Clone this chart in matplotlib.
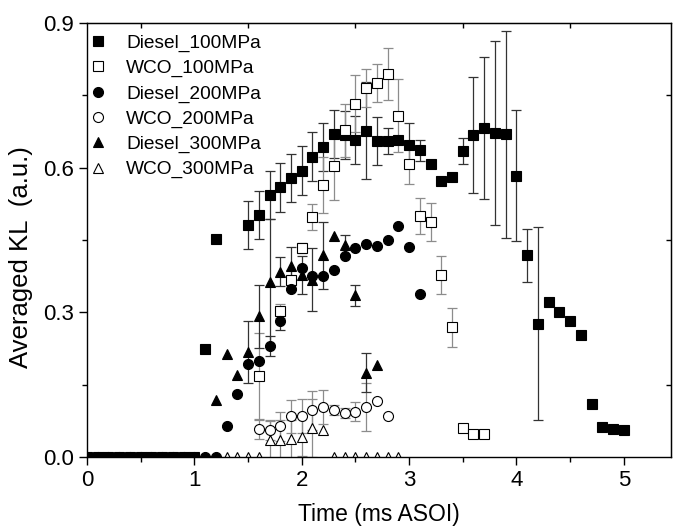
import numpy as np
import matplotlib
matplotlib.use('Agg')
import matplotlib.pyplot as plt
from matplotlib.ticker import MultipleLocator, FixedLocator

plt.rcParams['font.family'] = ['Liberation Sans', 'DejaVu Sans']

# Diesel 100 MPa
d100_x = [0.0, 0.1, 0.2, 0.3, 0.4, 0.5, 0.6, 0.7, 0.8, 0.9, 1.0, 1.1, 1.2,
          1.5, 1.6, 1.7, 1.8, 1.9, 2.0, 2.1, 2.2, 2.3, 2.4, 2.5, 2.6, 2.7, 2.8, 2.9,
          3.0, 3.1, 3.2, 3.3, 3.4, 3.5, 3.6, 3.7, 3.8, 3.9, 4.0, 4.1, 4.2, 4.3, 4.4,
          4.5, 4.6, 4.7, 4.8, 4.9, 5.0]
d100_y = [0, 0, 0, 0, 0, 0, 0, 0, 0, 0, 0, 0.223, 0.453,
          0.481, 0.502, 0.543, 0.559, 0.578, 0.594, 0.623, 0.643, 0.670, 0.668, 0.657, 0.677, 0.656, 0.656, 0.658,
          0.647, 0.636, 0.607, 0.573, 0.580, 0.635, 0.668, 0.682, 0.672, 0.669, 0.583, 0.418, 0.276, 0.321, 0.301,
          0.281, 0.252, 0.110, 0.063, 0.058, 0.055]
d100_e = [0, 0, 0, 0, 0, 0, 0, 0, 0, 0, 0, 0, 0,
          0.05, 0.05, 0.05, 0.05, 0.05, 0.05, 0.05, 0.05, 0.05, 0.05, 0.05, 0.10, 0.05, 0.027, 0,
          0.045, 0.022, 0.008, 0, 0, 0.027, 0.12, 0.148, 0.19, 0.215, 0.136, 0.055, 0.20, 0, 0,
          0, 0, 0, 0, 0, 0]

# WCO 100 MPa
w100_x = [1.6, 1.8, 1.9, 2.0, 2.1, 2.2, 2.3, 2.4, 2.5, 2.6, 2.7, 2.8, 2.9, 3.0,
          3.1, 3.2, 3.3, 3.4, 3.5, 3.6, 3.7]
w100_y = [0.167, 0.303, 0.367, 0.433, 0.497, 0.564, 0.603, 0.678, 0.733, 0.765, 0.776, 0.794, 0.708, 0.607,
          0.500, 0.487, 0.377, 0.269, 0.061, 0.047, 0.047]
w100_e = [0.09, 0.015, 0.02, 0.01, 0.027, 0.058, 0.07, 0.055, 0.06, 0.04, 0.04, 0.054, 0.075, 0.04,
          0.037, 0.04, 0.04, 0.04, 0, 0, 0]

# Diesel 200 MPa
d200_x = [0.0, 0.1, 0.2, 0.3, 0.4, 0.5, 0.6, 0.7, 0.8, 0.9, 1.0, 1.1, 1.2,
          1.3, 1.4, 1.5, 1.6, 1.7, 1.8, 1.9, 2.0, 2.1, 2.2, 2.3, 2.4, 2.5, 2.6, 2.7,
          2.8, 2.9, 3.0, 3.1]
d200_y = [0, 0, 0, 0, 0, 0, 0, 0, 0, 0, 0, 0, 0,
          0.064, 0.130, 0.192, 0.200, 0.230, 0.283, 0.348, 0.392, 0.375, 0.376, 0.388, 0.416, 0.433, 0.441, 0.438,
          0.450, 0.479, 0.436, 0.337]
d200_e = [0] * 13 + [0, 0, 0, 0, 0.02, 0.02, 0, 0, 0, 0, 0, 0, 0, 0, 0, 0, 0, 0, 0]

# WCO 200 MPa
w200_x = [1.6, 1.7, 1.8, 1.9, 2.0, 2.1, 2.2, 2.3, 2.4, 2.5, 2.6, 2.7, 2.8]
w200_y = [0.058, 0.055, 0.064, 0.084, 0.085, 0.097, 0.104, 0.097, 0.091, 0.094, 0.104, 0.116, 0.086]
w200_e = [0.02, 0.02, 0.03, 0.035, 0.035, 0.04, 0.035, 0.01, 0.01, 0.02, 0.05, 0, 0]

# Diesel 300 MPa
d300_x = [0.0, 0.1, 0.2, 0.3, 0.4, 0.5, 0.6, 0.7, 0.8, 0.9, 1.0, 1.1,
          1.2, 1.3, 1.4, 1.5, 1.6, 1.7, 1.8, 1.9, 2.0, 2.1, 2.2, 2.3, 2.4, 2.5, 2.6, 2.7]
d300_y = [0, 0, 0, 0, 0, 0, 0, 0, 0, 0, 0, 0,
          0.119, 0.214, 0.171, 0.218, 0.292, 0.363, 0.384, 0.396, 0.377, 0.368, 0.418, 0.458, 0.440, 0.335, 0.175, 0.190]
d300_e = [0] * 12 + [0, 0, 0, 0.065, 0.065, 0.13, 0.03, 0.04, 0.04, 0.065, 0.07, 0, 0.02, 0.022, 0.04, 0]

# WCO 300 MPa
w300_x = [1.3, 1.4, 1.5, 1.6, 1.7, 1.8, 1.9, 2.0, 2.1, 2.2, 2.3, 2.4, 2.5, 2.6, 2.7, 2.8, 2.9]
w300_y = [0, 0, 0, 0, 0.036, 0.036, 0.037, 0.042, 0.060, 0.056, 0, 0, 0, 0, 0, 0, 0]
w300_e = [0, 0, 0, 0, 0.04, 0.04, 0.04, 0.04, 0.06, 0, 0, 0, 0, 0, 0, 0, 0]

series = [
    ('Diesel_100MPa', d100_x, d100_y, d100_e, 's', 'black', '#333333'),
    ('WCO_100MPa', w100_x, w100_y, w100_e, 's', 'white', '#8c8c8c'),
    ('Diesel_200MPa', d200_x, d200_y, d200_e, 'o', 'black', '#333333'),
    ('WCO_200MPa', w200_x, w200_y, w200_e, 'o', 'white', '#8c8c8c'),
    ('Diesel_300MPa', d300_x, d300_y, d300_e, '^', 'black', '#333333'),
    ('WCO_300MPa', w300_x, w300_y, w300_e, '^', 'white', '#8c8c8c'),
]

fig = plt.figure(figsize=(6.73, 5.30), dpi=100)
ax = fig.add_axes([87 / 673, 73 / 530, 584 / 673, 434 / 530])

handles = []
for i, (name, x, y, e, m, face, ecol) in enumerate(series):
    x = np.array(x)
    y = np.array(y)
    e = np.array(e)
    mask = e > 0
    ax.errorbar(x[mask], y[mask], yerr=e[mask], fmt='none', ecolor=ecol,
                elinewidth=0.9, capsize=3.5, capthick=0.9, zorder=1)
    ms = 7.8 if m == '^' else 7.2
    h, = ax.plot(x, y, linestyle='none', marker=m, markersize=ms,
                 markerfacecolor=face, markeredgecolor='black',
                 markeredgewidth=0.8, zorder=2 + i * 0.1, label=name)
    handles.append(h)

ax.set_xlim(0, 5.44)
ax.set_ylim(0, 0.9)
ax.xaxis.set_major_locator(MultipleLocator(1))
ax.xaxis.set_minor_locator(MultipleLocator(0.5))
ax.yaxis.set_major_locator(MultipleLocator(0.3))
ax.yaxis.set_minor_locator(MultipleLocator(0.15))
ax.yaxis.set_major_formatter(matplotlib.ticker.FormatStrFormatter('%.1f'))
ax.tick_params(which='major', direction='out', length=6, width=1, labelsize=16,
               top=False, right=False)
ax.tick_params(which='minor', direction='out', length=3.5, width=1,
               top=False, right=False)

# top and right axes only carry the half-step ticks, pointing inwards
axt = ax.secondary_xaxis('top')
axt.xaxis.set_major_locator(FixedLocator([0.5, 1.5, 2.5, 3.5, 4.5]))
axt.tick_params(direction='in', length=3.5, width=1, labeltop=False)
axr = ax.secondary_yaxis('right')
axr.yaxis.set_major_locator(FixedLocator([0.15, 0.45, 0.75]))
axr.tick_params(direction='in', length=3.5, width=1, labelright=False)

for sp in ax.spines.values():
    sp.set_linewidth(1.0)

ax.set_xlabel('Time (ms ASOI)', fontsize=16.5)
ax.set_ylabel('Averaged KL  (a.u.)', fontsize=18.5)
ax.xaxis.set_label_coords(0.5, -0.105)
ax.yaxis.set_label_coords(-0.092, 0.46)

ax.legend(handles=handles, loc='upper left', bbox_to_anchor=(0.0, 0.978),
          frameon=False, fontsize=13.8, handlelength=0.95, handletextpad=1.0,
          labelspacing=0.4, borderpad=0.1, borderaxespad=0.0)

fig.savefig('out.png', dpi=100)
